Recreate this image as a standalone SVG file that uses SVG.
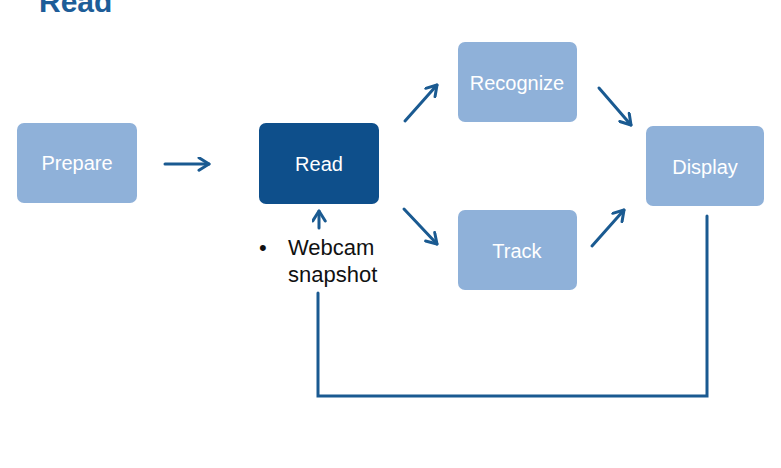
<svg xmlns="http://www.w3.org/2000/svg" width="781" height="468" viewBox="0 0 781 468">
<defs>
<style>
.box{fill:#8fb1d9}
.dark{fill:#0e4f8b}
.lbl{font-family:"Liberation Sans",Arial,sans-serif;font-size:20px;fill:#ffffff;text-anchor:middle;dominant-baseline:central}
.con{stroke:#1a5a91;stroke-width:3;fill:none;stroke-linecap:round}
.txt{font-family:"Liberation Sans",Arial,sans-serif;font-size:22px;fill:#111111}
</style>
<marker id="ah" viewBox="0 0 12 12" refX="10" refY="6" markerWidth="5" markerHeight="5" orient="auto" markerUnits="strokeWidth">
<path d="M2,1 L10,6 L2,11" fill="none" stroke="#1a5a91" stroke-width="2.4" stroke-linecap="round" stroke-linejoin="round"/>
</marker>
</defs>
<rect width="781" height="468" fill="#ffffff"/>
<text x="39" y="12" font-family="Liberation Sans,Arial,sans-serif" font-size="30" font-weight="bold" fill="#1d5d98">Read</text>
<g id="prepare"><rect class="box" x="17" y="123" width="120" height="80" rx="7"/><text class="lbl" x="77" y="163">Prepare</text></g>
<g id="read"><rect class="dark" x="259" y="123" width="120" height="81" rx="7"/><text class="lbl" x="319" y="164">Read</text></g>
<g id="recognize"><rect class="box" x="458" y="42" width="119" height="80" rx="7"/><text class="lbl" x="517" y="83">Recognize</text></g>
<g id="track"><rect class="box" x="458" y="210" width="119" height="80" rx="7"/><text class="lbl" x="517" y="251">Track</text></g>
<g id="display"><rect class="box" x="646" y="126" width="118" height="80" rx="7"/><text class="lbl" x="705" y="167">Display</text></g>
<g id="webcam">
<text class="txt" x="259" y="255">•</text>
<text class="txt" x="288" y="255">Webcam</text>
<text class="txt" x="288" y="282">snapshot</text>
</g>
<g id="connectors">
<line class="con" x1="165" y1="164" x2="209" y2="164" marker-end="url(#ah)"/>
<line class="con" x1="405" y1="121" x2="437" y2="85" marker-end="url(#ah)"/>
<line class="con" x1="599" y1="88" x2="631" y2="125" marker-end="url(#ah)"/>
<line class="con" x1="404" y1="209" x2="437" y2="244" marker-end="url(#ah)"/>
<line class="con" x1="592" y1="246" x2="624" y2="210" marker-end="url(#ah)"/>
<line class="con" x1="319" y1="228" x2="319" y2="211" marker-end="url(#ah)"/>
<polyline class="con" points="318,293 318,396 707,396 707,216" stroke-linejoin="miter"/>
</g>
</svg>
